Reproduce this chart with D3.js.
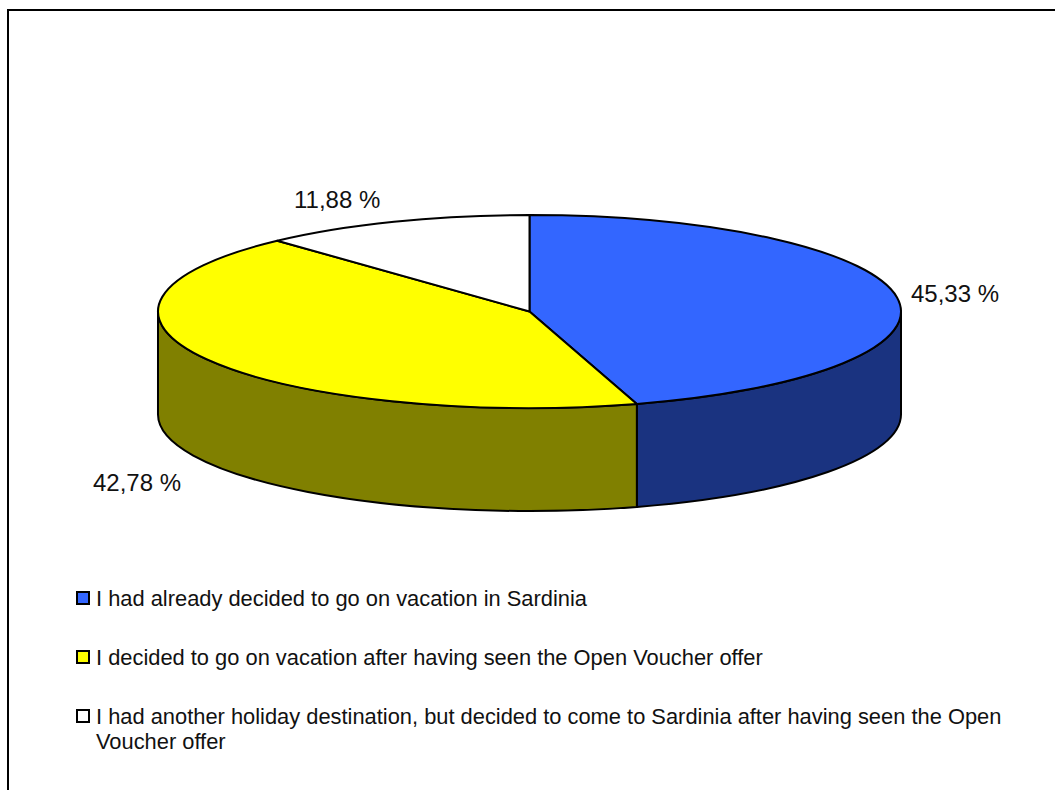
<!DOCTYPE html>
<html><head><meta charset="utf-8">
<script src="https://cdnjs.cloudflare.com/ajax/libs/d3/7.9.0/d3.min.js"></script>
<style>html,body{margin:0;padding:0;background:#fff;overflow:hidden}svg{display:block}
text{font-family:"Liberation Sans",Arial,sans-serif;fill:#111}</style></head><body>
<script>
const categories = [
  ["I had already decided to go on vacation in Sardinia"],
  ["I decided to go on vacation after having seen the Open Voucher offer"],
  ["I had another holiday destination, but decided to come to Sardinia after having seen the Open","Voucher offer"]
];
const values = [45.33, 42.78, 11.88];
const valueLabels = ["45,33 %", "42,78 %", "11,88 %"];
const topColors = ["#3366FF", "#FFFF00", "#FFFFFF"];
const sideColors = ["#1A3380", "#808000", "#808080"];

const W = 1055, H = 790, cx = 529.5, cy = 311.5, rx = 371.5, ry = 96.5, depth = 103;
const svg = d3.select("body").append("svg").attr("width", W).attr("height", H);

// frame: only the top and left edges are inside the picture
svg.append("path").attr("d", `M1055,10H8V790`).attr("fill", "none").attr("stroke", "#000").attr("stroke-width", 2);

const arcs = d3.pie().sort(null).value(d => d).startAngle(0).endAngle(2 * Math.PI)(values);
const px = a => cx + rx * Math.sin(a), py = (a, dy = 0) => cy - ry * Math.cos(a) + dy;
const largeArc = (a0, a1) => (a1 - a0 > Math.PI ? 1 : 0);

// side walls: only the front half of the ellipse (from PI/2 to 3PI/2) is visible
const g = svg.append("g").attr("stroke", "#000").attr("stroke-width", 2).attr("stroke-linejoin", "round");
g.selectAll("path.side").data(arcs).join("path").attr("class", "side")
  .filter(d => d.endAngle > Math.PI / 2 && d.startAngle < 3 * Math.PI / 2)
  .attr("fill", d => sideColors[d.index])
  .attr("d", d => {
    const a0 = Math.max(d.startAngle, Math.PI / 2), a1 = Math.min(d.endAngle, 3 * Math.PI / 2);
    return `M${px(a0)},${py(a0)}L${px(a0)},${py(a0, depth)}`
      + `A${rx},${ry} 0 0 1 ${px(a1)},${py(a1, depth)}L${px(a1)},${py(a1)}`
      + `A${rx},${ry} 0 0 0 ${px(a0)},${py(a0)}Z`;
  });

// top face
g.selectAll("path.top").data(arcs).join("path").attr("class", "top")
  .attr("fill", d => topColors[d.index])
  .attr("d", d => `M${cx},${cy}L${px(d.startAngle)},${py(d.startAngle)}`
    + `A${rx},${ry} 0 ${largeArc(d.startAngle, d.endAngle)} 1 ${px(d.endAngle)},${py(d.endAngle)}Z`);

// value labels
const labelPos = [[911, 302], [93, 491], [294, 208]];
svg.selectAll("text.val").data(valueLabels).join("text").attr("class", "val")
  .attr("x", (d, i) => labelPos[i][0]).attr("y", (d, i) => labelPos[i][1])
  .attr("font-size", 24).text(d => d);

// legend
const legendY = [605, 664, 723];
const lg = svg.selectAll("g.leg").data(categories).join("g").attr("class", "leg")
  .attr("transform", (d, i) => `translate(0,${legendY[i]})`);
lg.append("rect").attr("x", 77).attr("y", -13).attr("width", 12).attr("height", 12)
  .attr("fill", (d, i) => topColors[i]).attr("stroke", "#000").attr("stroke-width", 2);
lg.selectAll("text").data(d => d).join("text").attr("x", 96).attr("y", (d, i) => 1 + i * 25)
  .attr("font-size", 21.87).text(d => d);
</script></body></html>
